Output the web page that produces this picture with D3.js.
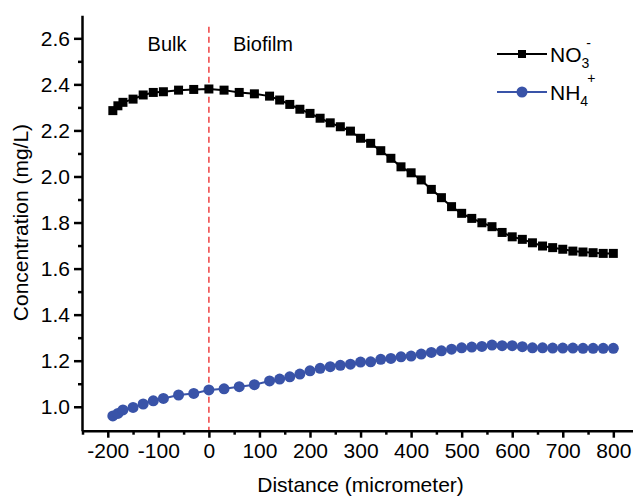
<!DOCTYPE html>
<html><head><meta charset="utf-8">
<script src="https://cdn.jsdelivr.net/npm/d3@7"></script>
<style>body{margin:0;background:#fff}svg{display:block}text{font-family:"Liberation Sans",Arial,sans-serif;fill:#000}</style>
</head><body><svg id="c" width="633" height="498"></svg>
<script>
const distance = [-190,-180,-170,-150,-130,-110,-90,-60,-30,0,30,60,90,120,140,160,180,200,220,240,260,280,300,320,340,360,380,400,420,440,460,480,500,520,540,560,580,600,620,640,660,680,700,720,740,760,780,800];
const no3 = [2.286,2.307,2.322,2.336,2.354,2.365,2.368,2.375,2.378,2.380,2.375,2.365,2.359,2.349,2.332,2.313,2.292,2.274,2.253,2.233,2.216,2.197,2.166,2.144,2.112,2.079,2.042,2.016,1.985,1.944,1.908,1.869,1.840,1.818,1.799,1.782,1.757,1.738,1.727,1.712,1.698,1.691,1.684,1.676,1.672,1.669,1.666,1.666];
const nh4 = [0.960,0.971,0.986,0.997,1.012,1.026,1.036,1.051,1.058,1.073,1.078,1.087,1.096,1.112,1.120,1.130,1.142,1.156,1.167,1.174,1.180,1.185,1.194,1.195,1.206,1.210,1.217,1.220,1.229,1.236,1.243,1.250,1.256,1.259,1.262,1.268,1.265,1.265,1.261,1.256,1.256,1.255,1.255,1.255,1.254,1.254,1.254,1.254];
const xTicks = [-200,-100,0,100,200,300,400,500,600,700,800];
const xMinor = [-250,-150,-50,50,150,250,350,450,550,650,750];
const yTicks = [1.0,1.2,1.4,1.6,1.8,2.0,2.2,2.4,2.6];
const yMinor = [1.1,1.3,1.5,1.7,1.9,2.1,2.3,2.5];

const svg = d3.select("#c");
const x = d3.scaleLinear().domain([-251,850]).range([82,638.6]);
const y = d3.scaleLinear().domain([0.896,2.7]).range([430.7,15.3]);
const blue = "#3953a8";

// Boundary dashed line
svg.append("line").attr("x1",x(0)).attr("x2",x(0)).attr("y1",y(2.65)).attr("y2",y(0.896))
  .attr("stroke","#f04040").attr("stroke-width",1.5).attr("stroke-dasharray","6,4");

// Axes
const fmtY = d3.format(".1f");
const gx = svg.append("g").attr("transform",`translate(0,${y(0.896)})`)
  .call(d3.axisBottom(x).tickValues(xTicks).tickSize(7).tickSizeOuter(0).tickPadding(5).tickFormat(d=>d));
gx.selectAll(".tick text").attr("font-size",21).attr("font-family","Liberation Sans, Arial, sans-serif");
svg.append("g").attr("transform",`translate(0,${y(0.896)})`)
  .call(d3.axisBottom(x).tickValues(xMinor).tickSize(4).tickSizeOuter(0).tickFormat(""))
  .select(".domain").remove();
const gy = svg.append("g").attr("transform",`translate(${x(-251)},0)`)
  .call(d3.axisLeft(y).tickValues(yTicks).tickSize(8).tickSizeOuter(0).tickPadding(4).tickFormat(fmtY));
gy.selectAll(".tick text").attr("font-size",21).attr("font-family","Liberation Sans, Arial, sans-serif");
svg.append("g").attr("transform",`translate(${x(-251)},0)`)
  .call(d3.axisLeft(y).tickValues(yMinor).tickSize(4).tickSizeOuter(0).tickFormat(""))
  .select(".domain").remove();
svg.selectAll(".domain").attr("stroke","#000").attr("stroke-width",2.5);
svg.selectAll(".tick line").attr("stroke","#000").attr("stroke-width",2.5);

// Series
const pts = distance.map((d,i)=>({d, a:no3[i], b:nh4[i]}));
svg.append("path").datum(pts).attr("fill","none").attr("stroke","#000").attr("stroke-width",2)
  .attr("d", d3.line().x(p=>x(p.d)).y(p=>y(p.a)));
svg.append("g").selectAll("rect").data(pts).join("rect")
  .attr("x",p=>x(p.d)-4.5).attr("y",p=>y(p.a)-4.5).attr("width",9).attr("height",9).attr("fill","#000");
svg.append("path").datum(pts).attr("fill","none").attr("stroke",blue).attr("stroke-width",2)
  .attr("d", d3.line().x(p=>x(p.d)).y(p=>y(p.b)));
svg.append("g").selectAll("circle").data(pts).join("circle")
  .attr("cx",p=>x(p.d)).attr("cy",p=>y(p.b)).attr("r",5.5).attr("fill",blue);

// Region labels
svg.append("text").attr("x",167).attr("y",51).attr("text-anchor","middle").attr("font-size",20).text("Bulk");
svg.append("text").attr("x",263).attr("y",51).attr("text-anchor","middle").attr("font-size",20).text("Biofilm");

// Axis titles
svg.append("text").attr("x",x(300)).attr("y",492).attr("text-anchor","middle").attr("font-size",21).text("Distance (micrometer)");
svg.append("text").attr("transform",`translate(28,${y(1.8)}) rotate(-90)`).attr("text-anchor","middle").attr("font-size",21).text("Concentration (mg/L)");

// Legend
const leg = svg.append("g");
leg.append("line").attr("x1",497).attr("x2",547).attr("y1",54).attr("y2",54).attr("stroke","#000").attr("stroke-width",2);
leg.append("rect").attr("x",518).attr("y",50).attr("width",8).attr("height",8).attr("fill","#000");
const t1 = leg.append("text").attr("x",550).attr("y",62).attr("font-size",21);
t1.append("tspan").text("NO");
t1.append("tspan").attr("font-size",14).attr("dy",6).text("3");
t1.append("tspan").attr("font-size",14).attr("dx",-3).attr("dy",-20).text("-");
leg.append("line").attr("x1",497).attr("x2",547).attr("y1",92).attr("y2",92).attr("stroke",blue).attr("stroke-width",2);
leg.append("circle").attr("cx",522).attr("cy",92).attr("r",5.5).attr("fill",blue);
const t2 = leg.append("text").attr("x",550).attr("y",100).attr("font-size",21);
t2.append("tspan").text("NH");
t2.append("tspan").attr("font-size",14).attr("dy",6).text("4");
t2.append("tspan").attr("font-size",14).attr("dx",-1).attr("dy",-23).text("+");
</script></body></html>
